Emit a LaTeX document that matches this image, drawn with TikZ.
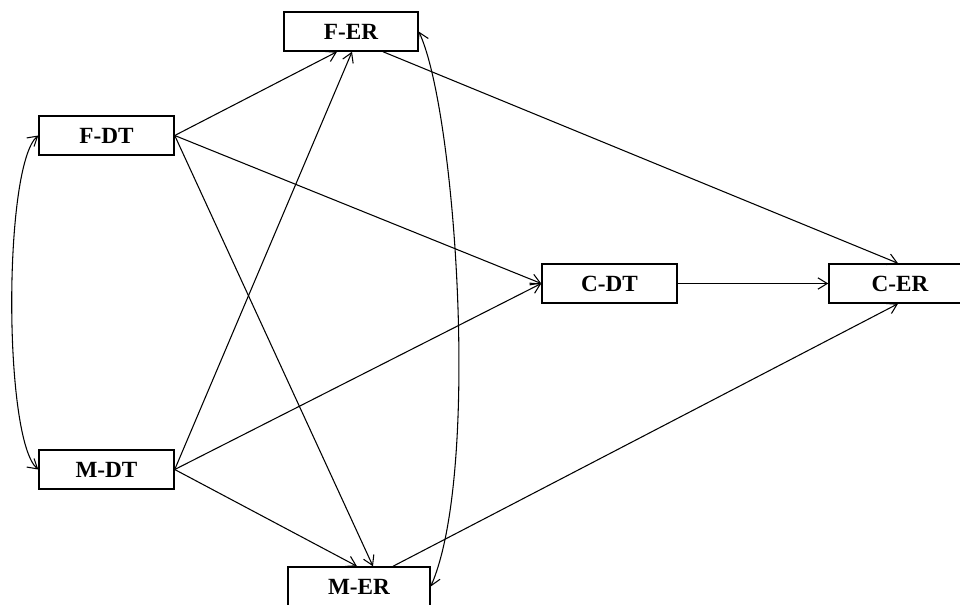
\documentclass[tikz,border=0pt]{standalone}
\usepackage{fontspec}
\setmainfont{Liberation Serif}
\usetikzlibrary{arrows.meta}
\begin{document}
\begin{tikzpicture}[x=0.75pt,y=-0.75pt,
  box/.style={draw,line width=1.1pt,inner sep=0pt,minimum height=29.25pt,
    font=\fontsize{17.4}{20}\selectfont\bfseries},
  narrowbox/.style={box,minimum width=101.25pt},
  widebox/.style={box,minimum width=106.5pt},
  conn/.style={line width=0.8pt,-{Straight Barb[length=7pt,width=8.5pt]}},
  dconn/.style={line width=0.8pt,{Straight Barb[length=7pt,width=8.5pt]}-{Straight Barb[length=7pt,width=8.5pt]}}]
\useasboundingbox (0,0) rectangle (960,604);
\node[narrowbox,minimum width=100.5pt] (fer) at (351,31.5) {F-ER};
\node[narrowbox] (fdt) at (106.5,135.5) {F-DT};
\node[narrowbox] (mdt) at (106.5,469.5) {M-DT};
\node[narrowbox] (cdt) at (609.5,283.5) {C-DT};
\node[widebox] (cer) at (900,283.5) {C-ER};
\node[widebox] (mer) at (359,586.5) {M-ER};

\draw[conn] (fdt.east) -- ([xshift=-10.5pt]fer.south);
\draw[conn] (mdt.east) -- ([xshift=0.75pt]fer.south);
\draw[conn] (fdt.east) -- (cdt.west);
\draw[conn] (fdt.east) -- ([xshift=10.5pt]mer.north);
\draw[conn] (mdt.east) -- (cdt.west);
\draw[conn] (mdt.east) -- ([xshift=-1.5pt]mer.north);
\draw[conn] (cdt.east) -- (cer.west);
\draw[conn] ([xshift=24pt]fer.south) -- ([xshift=-1.5pt]cer.north);
\draw[conn] ([xshift=25.5pt]mer.north) -- ([xshift=-1.5pt]cer.south);
\draw[dconn] (fdt.west) .. controls +(-35,30) and +(-35,-30) .. (mdt.west);
\draw[dconn] (fer.east) .. controls +(37,79) and +(50,-115) .. (mer.east);
\end{tikzpicture}
\end{document}
